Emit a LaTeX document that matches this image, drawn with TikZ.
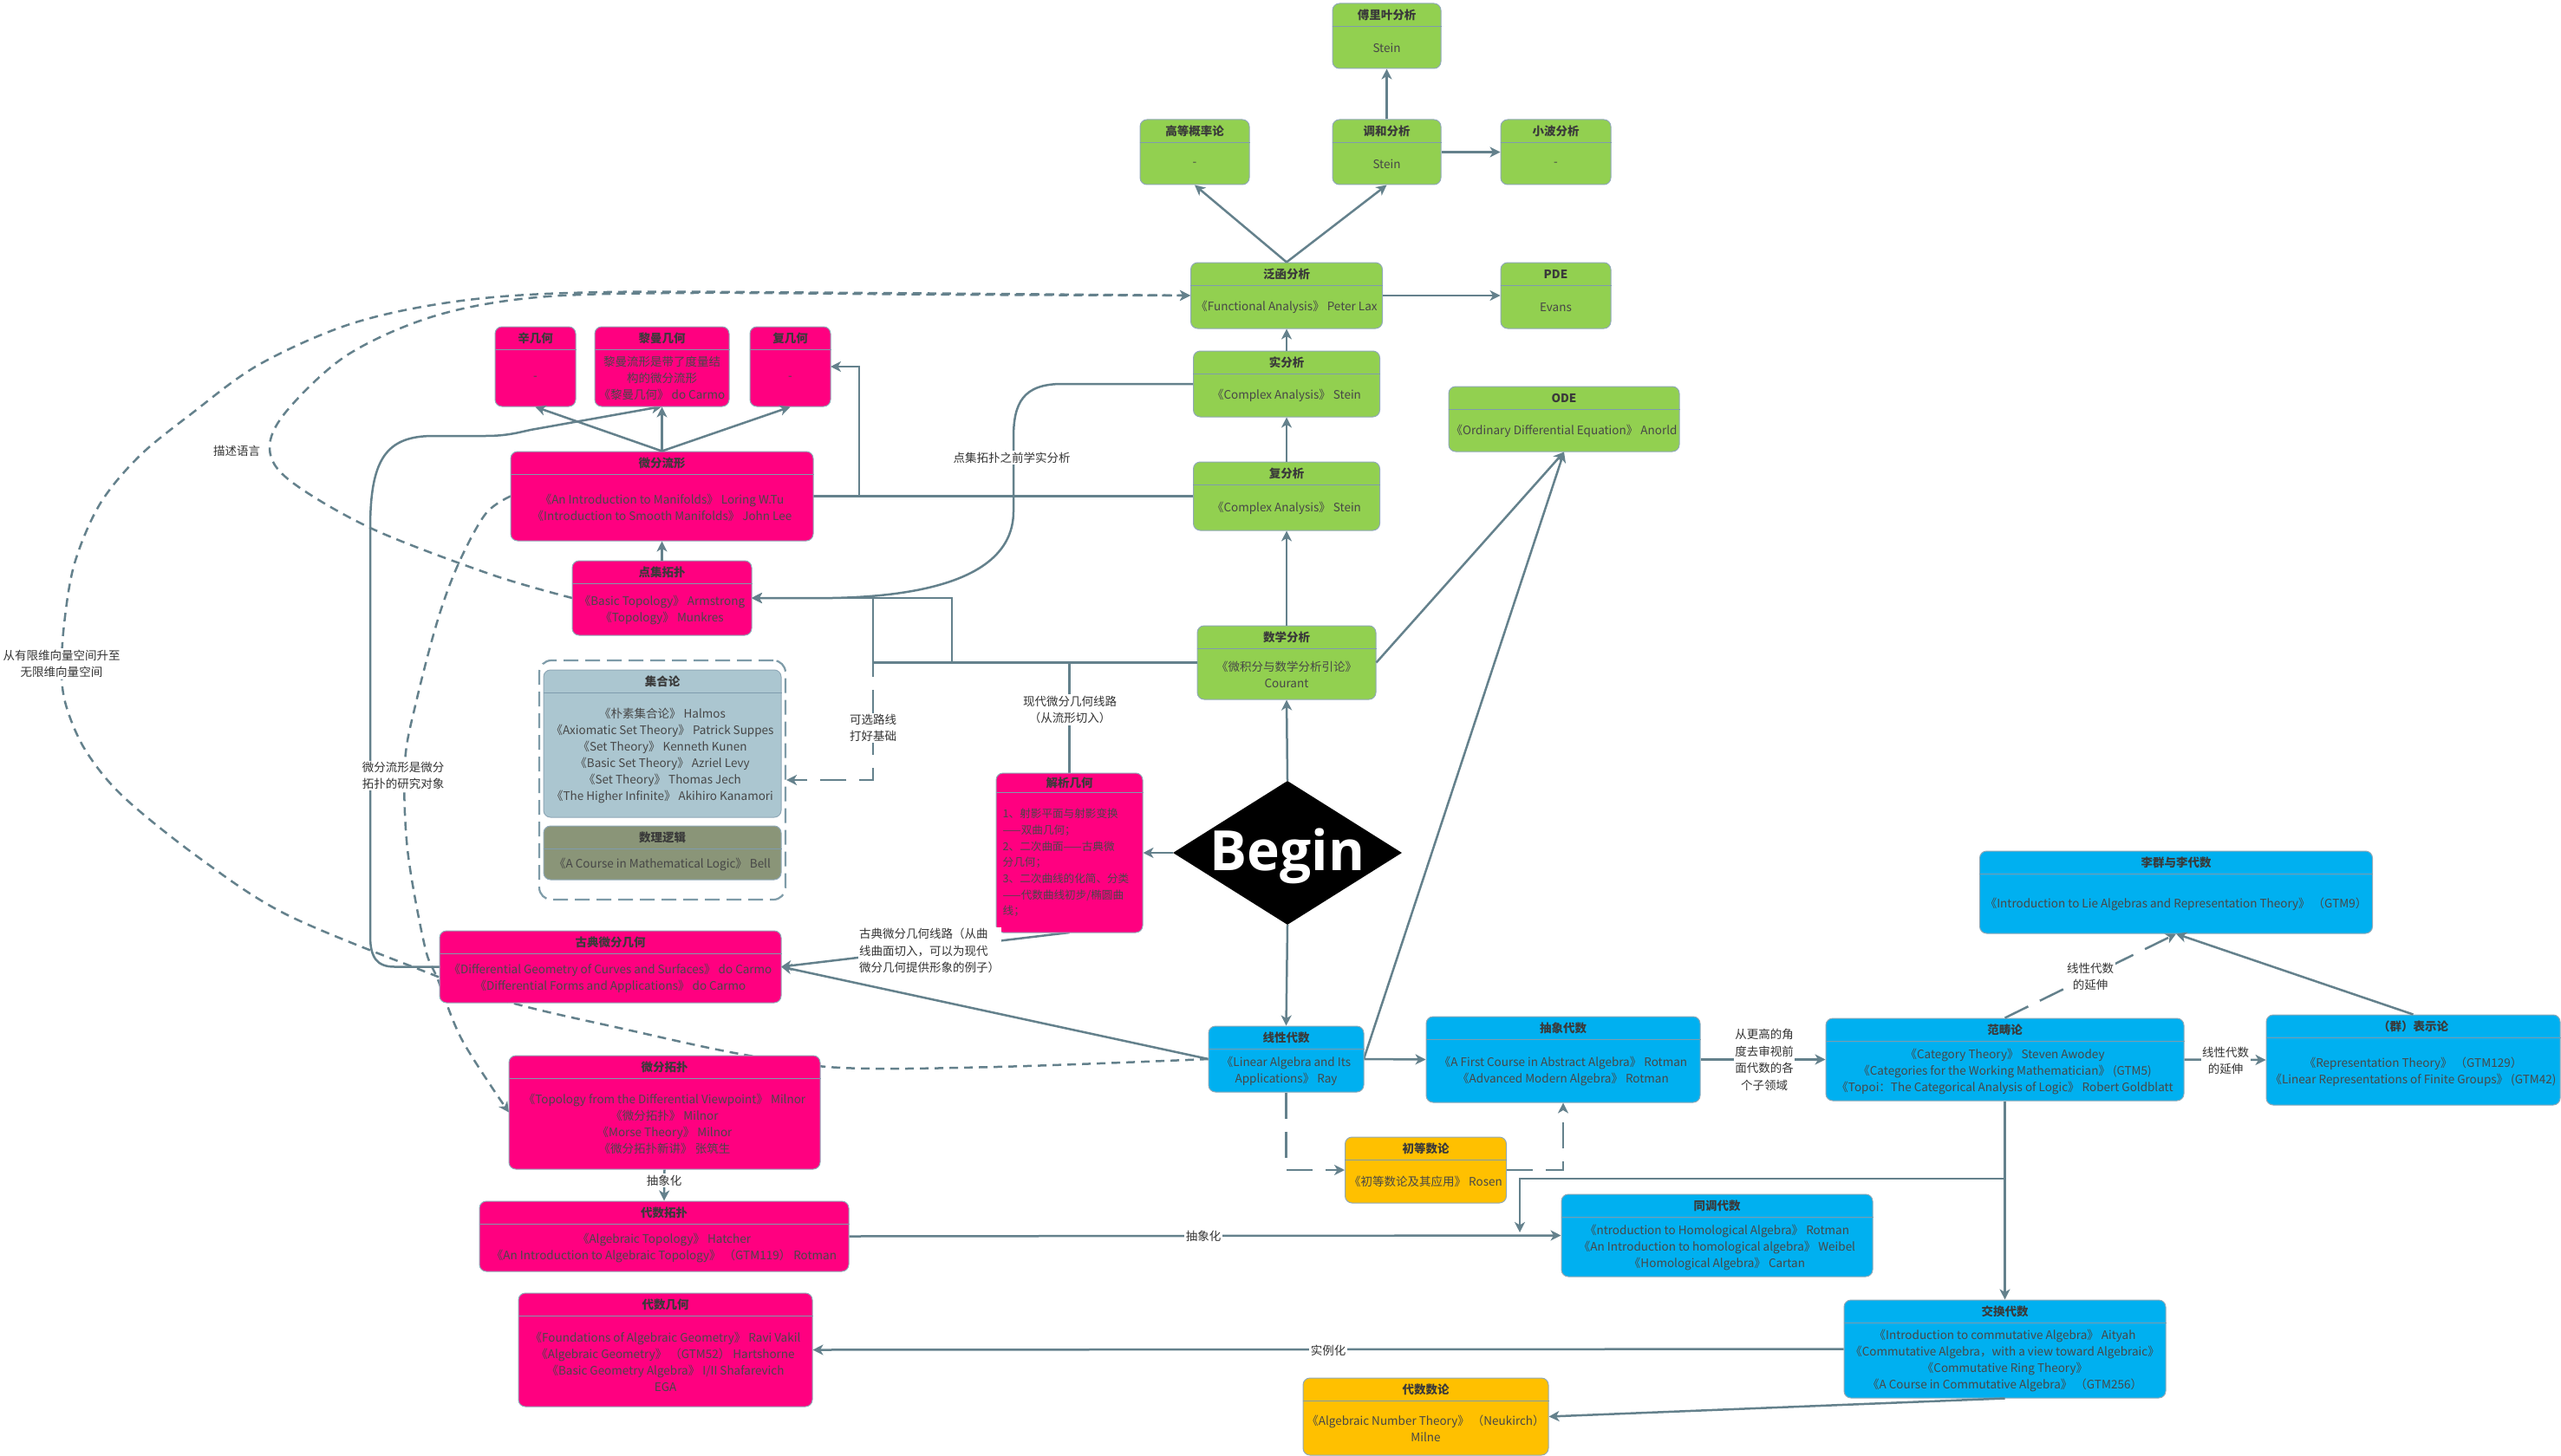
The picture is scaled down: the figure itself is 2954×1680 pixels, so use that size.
\documentclass[tikz,border=0pt]{standalone}
\usepackage{fontspec}
\setmainfont{Noto Sans CJK SC}
\newfontfamily\bgfont{Open Sans}
\usetikzlibrary{arrows.meta,shapes.geometric}
\definecolor{gr}{HTML}{92D050}
\definecolor{pk}{HTML}{FF0080}
\definecolor{bl}{HTML}{00B0F0}
\definecolor{yl}{HTML}{FFC000}
\definecolor{setc}{HTML}{ABC6D0}
\definecolor{logc}{HTML}{8A9578}
\definecolor{grpc}{HTML}{7E9BA8}
\definecolor{lnc}{HTML}{64818C}
\definecolor{bordc}{HTML}{8FA8B7}
\definecolor{hdrc}{HTML}{7F9CAD}
\definecolor{ttlc}{HTML}{3A3A3A}
\definecolor{bdyc}{HTML}{474747}
\definecolor{labc}{HTML}{333333}
\tikzset{
  box/.style={draw=bordc,line width=1pt,rounded corners=8pt,inner sep=0pt},
  hdr/.style={draw=hdrc,line width=1pt},
  ttl/.style={font=\fontsize{13.5}{16}\selectfont\bfseries,text=ttlc,inner sep=0pt},
  bdy/.style={font=\fontsize{13.5}{19}\selectfont,text=bdyc,align=center,inner sep=0pt},
  conn/.style={draw=lnc,line width=2.5pt},
  arrtip/.style={-{Stealth[length=12pt,width=12pt,inset=3.5pt]}},
  arr/.style={conn,arrtip},
  dsharr/.style={conn,arrtip,dash pattern=on 10pt off 7pt},
  dlarr/.style={conn,arrtip,dash pattern=on 30pt off 15pt},
  lbl/.style={fill=white,inner sep=1.5pt,font=\fontsize{13.5}{19.5}\selectfont,text=labc,align=center},
}
% #1 name, #2 fill, #3 cx, #4 cy, #5 w, #6 h, #7 title, #8 body
\newcommand\BX[8]{%
  \node[box,fill=#2,minimum width=#5pt,minimum height=#6pt] (#1) at (#3,#4) {};
  \draw[hdr] ([yshift=-27pt]#1.north west) -- ([yshift=-27pt]#1.north east);
  \node[ttl] (#1-t) at ([yshift=-13.5pt]#1.north) {#7};
  \node[bdy] (#1-b) at ([yshift=-13.5pt]#1.center) {#8};
}
\begin{document}
\begin{tikzpicture}[x=1pt,y=-1pt]
\fill[white] (0,0) rectangle (2954,1680);
\useasboundingbox (0,0) rectangle (2954,1680);

% ================= GREEN NODES =================
\BX{fourier}{gr}{1599.5}{41.5}{125}{75}{傅里叶分析}{Stein}
\BX{prob}{gr}{1378}{175.5}{126}{75}{高等概率论}{-}
\BX{harm}{gr}{1599.5}{175.5}{125}{75}{调和分析}{Stein}
\BX{wave}{gr}{1794.5}{175.5}{127}{75}{小波分析}{-}
\BX{fa}{gr}{1484}{341}{221}{76}{泛函分析}{《Functional Analysis》 Peter Lax}
\BX{pde}{gr}{1794.5}{341}{127}{76}{PDE}{Evans}
\BX{real}{gr}{1484}{443}{215}{76}{实分析}{《Complex Analysis》 Stein}
\BX{ode}{gr}{1804}{483.5}{266}{75}{ODE}{《Ordinary Differential Equation》 Anorld}
\BX{cx}{gr}{1484}{572.5}{215}{79}{复分析}{《Complex Analysis》 Stein}
\BX{ma}{gr}{1484}{764.5}{206}{85}{数学分析}{《微积分与数学分析引论》\\Courant}

% grey group
\node[draw=grpc,line width=2.2pt,dash pattern=on 17pt off 8pt,rounded corners=14pt,minimum width=284pt,minimum height=276pt,inner sep=0pt] (grp) at (764,900) {};

% ================= CONNECTORS (under the later boxes) =================
\draw[arr] (harm.north) -- (fourier.south);
\draw[arr] (fa.north) -- (prob.south);
\draw[arr] (fa.north) -- (harm.south);
\draw[arr] (harm.east) -- (wave.west);
\draw[arr] (fa.east) -- (pde.west);
\draw[arr] (real.north) -- (fa.south);
\draw[arr] (cx.north) -- (real.south);
\draw[arr] (ma.north) -- (cx.south);
\draw[arr] (ma.east) -- (ode.south);

\coordinate (mani-e) at (938,572.5);
\coordinate (pst-e) at (867,690);
\coordinate (pst-w) at (660,690);
\coordinate (cgeo-e) at (958,423);
\coordinate (riem-s) at (763.5,469);
\coordinate (cdg-w) at (507,1115.5);
\coordinate (cdg-e) at (901,1115.5);
\coordinate (mani-w) at (589,572.5);
\coordinate (dt-w) at (587,1283.5);
\coordinate (ana-n) at (1233.5,892);
\coordinate (ana-s) at (1233.5,1076);
\coordinate (lin-w) at (1394,1222);
\coordinate (lin-e) at (1573,1222);

\draw[conn] (mani-e) -- (cx.west);
\draw[arr] (cx.west) -- (991,572.5) |- (cgeo-e);
\draw[arr] (real.west) -- (1225,443) .. controls (1180,443) and (1169,465) .. (1169,505) -- (1169,590) .. controls (1169,665) and (1070,688) .. (960,690) -- (pst-e);
\draw[arr] (ma.west) -- (1098,764.5) -- (1098,690) -- (pst-e);
\draw[arr] (ana-n) -- (1233.5,764.5) -- (1007,764.5) -- (1007,690) -- (pst-e);
\draw[dlarr] (ma.west) -- (1007,764.5) -- (1007,900) -- (grp.east);
\draw[arr] (cdg-w) -- (455,1115.5) .. controls (435,1115.5) and (427,1105) .. (427,1080) -- (427,610) .. controls (427,530) and (445,503) .. (500,503) -- (560,503) .. controls (585,503) and (598,499) .. (612,496) -- (riem-s);
\draw[dsharr] plot[smooth,tension=0.55] coordinates {(pst-w) (567,663) (429,610) (335,555) (311,518) (330,475) (400,410) (500,365) (620,343) (800,338) (1100,340) (fa.west)};
\draw[dsharr] plot[smooth,tension=0.55] coordinates {(lin-w) (1150,1231) (970,1232) (853,1216) (723,1188) (590,1157) (490,1121) (330,1055) (230,990) (143,920) (100,868) (78,820) (71,780) (74,720) (86,650) (115,582) (160,527) (220,478) (300,420) (410,372) (540,346) (700,337) (1000,338) (fa.west)};
\draw[dsharr] plot[smooth,tension=0.55] coordinates {(mani-w) (560,593) (529,650) (505,715) (480,810) (467,880) (470,980) (490,1092) (505,1130) (533,1200) (dt-w)};
\draw[arr] (ana-s) -- (cdg-e);
\draw[arr] (lin-w) -- (cdg-e);
\draw[arr] (lin-e) -- (ode.south);

% ================= PINK NODES =================
\BX{symp}{pk}{617.5}{423}{93}{92}{辛几何}{-}
\BX{riem}{pk}{763.5}{423}{155}{92}{黎曼几何}{黎曼流形是带了度量结\\构的微分流形\\《黎曼几何》 do Carmo}
\BX{cgeo}{pk}{911.5}{423}{93}{92}{复几何}{-}
\BX{mani}{pk}{763.5}{572.5}{349}{103}{微分流形}{《An Introduction to Manifolds》 Loring W.Tu\\《Introduction to Smooth Manifolds》 John Lee}
\BX{pst}{pk}{763.5}{690}{207}{86}{点集拓扑}{《Basic Topology》 Armstrong\\《Topology》 Munkres}
\node[box,fill=pk,minimum width=169pt,minimum height=184pt] (ana) at (1233.5,984) {};
\draw[hdr] ([yshift=-23pt]ana.north west) -- ([yshift=-23pt]ana.north east);
\node[ttl] (ana-t) at ([yshift=-11.5pt]ana.north) {解析几何};
\node[bdy,align=left,anchor=west,font=\fontsize{12.6}{18.7}\selectfont] (ana-b) at ([xshift=8pt,yshift=-11.5pt]ana.west) {1、射影平面与射影变换\\——双曲几何；\\2、二次曲面——古典微\\分几何；\\3、二次曲线的化简、分类\\——代数曲线初步/椭圆曲\\线；};
\BX{cdg}{pk}{704}{1115.5}{394}{83}{古典微分几何}{《Differential Geometry of Curves and Surfaces》 do Carmo\\《Differential Forms and Applications》 do Carmo}
\BX{dt}{pk}{766.5}{1283.5}{359}{131}{微分拓扑}{《Topology from the Differential Viewpoint》 Milnor\\《微分拓扑》 Milnor\\《Morse Theory》 Milnor\\《微分拓扑新讲》 张筑生}
\BX{at}{pk}{766}{1426.5}{426}{81}{代数拓扑}{《Algebraic Topology》 Hatcher\\《An Introduction to Algebraic Topology》 （GTM119） Rotman}
\BX{ag}{pk}{767.5}{1557.5}{339}{131}{代数几何}{《Foundations of Algebraic Geometry》 Ravi Vakil\\《Algebraic Geometry》 （GTM52） Hartshorne\\《Basic Geometry Algebra》 I/II Shafarevich\\EGA}

% ================= GREY NODES =================
\BX{set}{setc}{764}{858}{274}{170}{集合论}{《朴素集合论》 Halmos\\《Axiomatic Set Theory》 Patrick Suppes\\《Set Theory》 Kenneth Kunen\\《Basic Set Theory》 Azriel Levy\\《Set Theory》 Thomas Jech\\《The Higher Infinite》 Akihiro Kanamori}
\BX{logic}{logc}{764}{984}{274}{62}{数理逻辑}{《A Course in Mathematical Logic》 Bell}

% ================= BLUE NODES =================
\BX{lin}{bl}{1483.5}{1222}{179}{76}{线性代数}{《Linear Algebra and Its\\Applications》 Ray}
\BX{abs}{bl}{1803}{1222.5}{316}{99}{抽象代数}{《A First Course in Abstract Algebra》 Rotman\\《Advanced Modern Algebra》 Rotman}
\BX{hom}{bl}{1980.5}{1425.5}{359}{95}{同调代数}{《ntroduction to Homological Algebra》 Rotman\\《An Introduction to homological algebra》 Weibel\\《Homological Algebra》 Cartan}
\BX{comm}{bl}{2312.5}{1556.5}{371}{113}{交换代数}{《Introduction to commutative Algebra》 Aityah\\《Commutative Algebra，with a view toward Algebraic》\\《Commutative Ring Theory》\\《A Course in Commutative Algebra》 （GTM256）}
\BX{lie}{bl}{2510}{1029.5}{453}{95}{李群与李代数}{《Introduction to Lie Algebras and Representation Theory》 （GTM9）}
\BX{cat}{bl}{2312.5}{1222.5}{413}{95}{范畴论}{《Category Theory》 Steven Awodey\\《Categories for the Working Mathematician》 (GTM5)\\《Topoi：The Categorical Analysis of Logic》 Robert Goldblatt}
\BX{rep}{bl}{2783.5}{1223}{339}{104}{（群）表示论}{《Representation Theory》 （GTM129）\\《Linear Representations of Finite Groups》 (GTM42)}

% ================= YELLOW NODES =================
\BX{elem}{yl}{1644.5}{1350}{186}{76}{初等数论}{《初等数论及其应用》 Rosen}
\BX{ant}{yl}{1644.5}{1634.5}{283}{89}{代数数论}{《Algebraic Number Theory》 （Neukirch）\\Milne}

% ================= BEGIN =================
\node[diamond,fill=black,minimum width=264pt,minimum height=166pt,inner sep=0pt,aspect=1.6] (begin) at (1485,984) {};
\node[font=\bgfont\bfseries\fontsize{64}{64}\selectfont,text=white,inner sep=0pt] (begintxt) at ([yshift=-4pt]begin.center) {Begin};

% connectors between later nodes
\draw[arr] (begin.north) -- (ma.south);
\draw[arr] (begin.south) -- (lin.north);
\draw[arr] (begin.west) -- (ana.east);
\draw[arr] (mani.north) -- (symp.south);
\draw[arr] (mani.north) -- (riem.south);
\draw[arr] (mani.north) -- (cgeo.south);
\draw[arr] (pst.north) -- (mani.south);
\draw[arr] (lin.east) -- (abs.west);
\draw[dlarr] (lin.south) |- (elem.west);
\draw[dlarr] (elem.east) -| (abs.south);
\draw[arr] (abs.east) -- (cat.west);
\draw[arr] (cat.east) -- (rep.west);
\draw[dlarr] (cat.north) -- (lie.south);
\draw[arr] (rep.north) -- (lie.south);
\draw[arr] (cat.south) -- (comm.north);
\coordinate (homj) at (1753,1422);
\draw[arr] (cat.south) |- (1753,1360) -- (homj);
\draw[arr] (at.east) -- (hom.west);
\draw[arr] (dt.south) -- (at.north);
\draw[arr] (comm.west) -- (ag.east);
\draw[arr] (comm.south) -- (ant.east);

% labels
\node[lbl,fill=none] (l-desc) at (273,520) {描述语言};
\node[lbl] (l-inf) at (71,766) {从有限维向量空间升至\\无限维向量空间};
\node[lbl] (l-mt) at (465,895) {微分流形是微分\\拓扑的研究对象};
\node[lbl] (l-real) at (1167,528) {点集拓扑之前学实分析};
\node[lbl] (l-opt) at (1007,840) {可选路线\\打好基础};
\node[lbl] (l-mod) at (1234,819) {现代微分几何线路\\（从流形切入）};
\node[lbl,align=left] (l-cls) at (1072,1097) {古典微分几何线路（从曲\\线曲面切入，可以为现代\\微分几何提供形象的例子）};
\node[lbl] (l-abs1) at (766,1362) {抽象化};
\node[lbl] (l-abs2) at (1388,1426) {抽象化};
\node[lbl] (l-inst) at (1532,1558) {实例化};
\node[lbl] (l-high) at (2035,1223) {从更高的角\\度去审视前\\面代数的各\\个子领域};
\node[lbl] (l-ext1) at (2411,1127) {线性代数\\的延伸};
\node[lbl] (l-ext2) at (2567,1224) {线性代数\\的延伸};
\end{tikzpicture}
\end{document}
